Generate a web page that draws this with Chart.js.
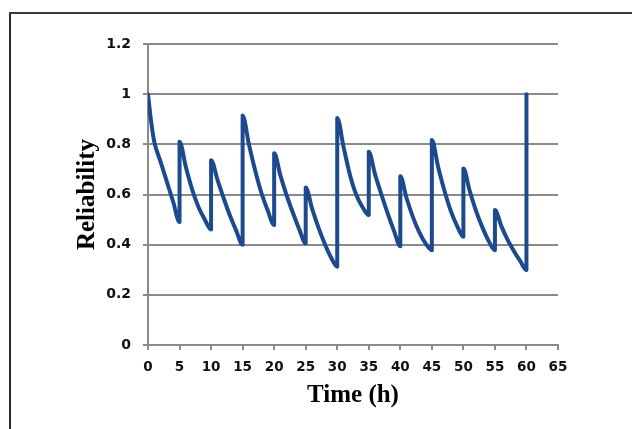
<!DOCTYPE html>
<html><head><meta charset="utf-8">
<script src="https://cdn.jsdelivr.net/npm/chart.js@4/dist/chart.umd.min.js"></script>
<style>
html,body{margin:0;padding:0;background:#fff;}
#wrap{position:relative;width:632px;height:429px;overflow:hidden;}
#frameL{position:absolute;left:9px;top:12px;width:2px;height:417px;background:#2b2b2b;}
#frameT{position:absolute;left:9px;top:12px;width:623px;height:2px;background:#3a3a3a;}
</style></head><body>
<div id="wrap"><canvas id="c" width="632" height="429"></canvas><div id="frameL"></div><div id="frameT"></div></div>
<script>
// Time (h) and reliability values (duplicate times = instantaneous jumps)
const timeH = [0,0.5,1,2,3,4,5,
  5,6,7,8,9,10,
  10,11,12,13,14,15,
  15,16,17,18,19,20,
  20,21,22,23,24,25,
  25,26,27,28,29,30,
  30,31,32,33,34,35,
  35,36,37,38,39,40,
  40,41,42,43,44,45,
  45,46,47,48,49,50,
  50,51,52,53,54,55,
  55,56,57,58,59,60,
  60];
const reliability = [1.00,0.89,0.81,0.73,0.65,0.57,0.49,
  0.81,0.71,0.62,0.55,0.50,0.46,
  0.737,0.66,0.585,0.515,0.455,0.40,
  0.915,0.80,0.695,0.605,0.535,0.478,
  0.764,0.675,0.595,0.525,0.46,0.405,
  0.628,0.545,0.47,0.405,0.35,0.312,
  0.905,0.79,0.68,0.60,0.55,0.518,
  0.77,0.68,0.60,0.525,0.455,0.394,
  0.673,0.585,0.51,0.45,0.405,0.378,
  0.817,0.71,0.615,0.535,0.475,0.432,
  0.704,0.615,0.535,0.47,0.415,0.378,
  0.538,0.475,0.42,0.375,0.335,0.299,
  1.00];
const xTickLabels = ['0','5','10','15','20','25','30','35','40','45','50','55','60','65'];
const yTickLabels = ['0','0.2','0.4','0.6','0.8','1','1.2'];
const xTitle = 'Time (h)';
const yTitle = 'Reliability';

const points = timeH.map((t, i) => ({x: t, y: reliability[i]}));
const gridGray = '#8a8a8a';

new Chart(document.getElementById('c'), {
  type: 'line',
  data: {
    datasets: [{
      data: points,
      borderColor: '#1d4a8c',
      borderWidth: 4,
      pointRadius: 0,
      cubicInterpolationMode: 'monotone',
      fill: false,
      borderCapStyle: 'round',
      borderJoinStyle: 'round'
    }]
  },
  options: {
    responsive: false,
    animation: false,
    layout: {padding: {top: 44, right: 74, bottom: 0, left: 0}},
    plugins: {legend: {display: false}, tooltip: {enabled: false}},
    scales: {
      x: {
        type: 'linear', min: 0, max: 65,
        afterFit: s => { s.height = 84; },
        ticks: {
          stepSize: 5, padding: 9, color: '#111',
          font: {family: 'DejaVu Sans', size: 13.5, weight: 'bold'},
          maxRotation: 0, autoSkip: false,
          callback: (v) => xTickLabels[Math.round(v / 5)]
        },
        grid: {drawOnChartArea: false, drawTicks: true, tickLength: 5, color: gridGray, lineWidth: 2},
        border: {color: gridGray, width: 2},
        title: {display: true, text: xTitle, color: '#000',
          font: {family: 'Liberation Serif', size: 25, weight: 'bold'},
          padding: {top: 0, bottom: 18}}
      },
      y: {
        min: 0, max: 1.2,
        afterFit: s => { s.width = 148; },
        ticks: {
          stepSize: 0.2, padding: 12, color: '#111',
          font: {family: 'DejaVu Sans', size: 14, weight: 'bold'},
          callback: (v) => yTickLabels[Math.round(v / 0.2)]
        },
        grid: {color: gridGray, lineWidth: 2, tickLength: 5},
        border: {color: gridGray, width: 2},
        title: {display: true, text: yTitle, color: '#000',
          font: {family: 'Liberation Serif', size: 25, weight: 'bold'},
          padding: {top: 73, bottom: 0}}
      }
    }
  }
});
</script>
</body></html>
